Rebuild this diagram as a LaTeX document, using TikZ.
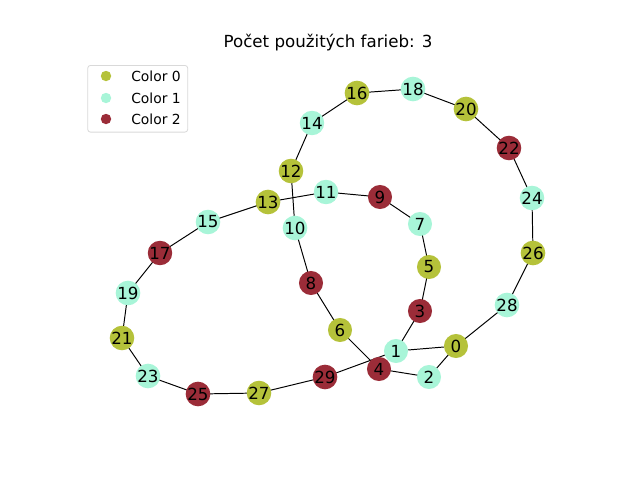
\documentclass[tikz,border=0pt]{standalone}
\usepackage{fontspec}
\setmainfont{DejaVu Sans}
\usepackage{tikz}
\usetikzlibrary{positioning}
\usetikzlibrary{calc}
\definecolor{colzero}{RGB}{181,194,58}
\definecolor{colone}{RGB}{168,245,216}
\definecolor{coltwo}{RGB}{155,44,56}
\pgfdeclarelayer{background}
\pgfsetlayers{background,main}
\tikzstyle{vertex} = [circle, inner sep=0pt, minimum size=17.3pt, font=\fontsize{12}{14}\selectfont]
\tikzstyle{czero} = [vertex, fill=colzero]
\tikzstyle{cone} = [vertex, fill=colone]
\tikzstyle{ctwo} = [vertex, fill=coltwo]
\tikzstyle{edge} = [line width=0.7pt, black]
\tikzstyle{legdot} = [circle, inner sep=0pt, minimum size=7.5pt]

\begin{document}
\begin{tikzpicture}[x=0.72pt, y=-0.72pt]
    \useasboundingbox (0,0) rectangle (640,480);

    % --- title ---
    \node[font=\fontsize{12}{14}\selectfont] at (328, 43) (title) {Počet použitých farieb: 3};

    % --- legend ---
    \node[draw=black!15, rounded corners=2pt, minimum width=100*0.72pt, minimum height=66.7*0.72pt,
        anchor=north west, line width=0.6pt] at (87.3, 65) (legend) {};
    \node[legdot, fill=colzero] at (106, 76) (leg_zero) {};
    \node[legdot, fill=colone] at (106, 98) (leg_one) {};
    \node[legdot, fill=coltwo] at (106, 119) (leg_two) {};
    \node[anchor=west, font=\fontsize{10}{12}\selectfont, inner sep=0pt] at (131, 76) (leg_zero_text) {Color 0};
    \node[anchor=west, font=\fontsize{10}{12}\selectfont, inner sep=0pt] at (131, 98) (leg_one_text) {Color 1};
    \node[anchor=west, font=\fontsize{10}{12}\selectfont, inner sep=0pt] at (131, 119) (leg_two_text) {Color 2};

    % --- vertices ---
    \node[czero] at (456, 346) (v0) {0};
    \node[cone]  at (396, 351) (v1) {1};
    \node[cone]  at (429, 377) (v2) {2};
    \node[ctwo]  at (420, 311) (v3) {3};
    \node[ctwo]  at (379, 369) (v4) {4};
    \node[czero] at (429, 267) (v5) {5};
    \node[czero] at (340, 330) (v6) {6};
    \node[cone]  at (420, 224) (v7) {7};
    \node[ctwo]  at (311, 283) (v8) {8};
    \node[ctwo]  at (380, 197) (v9) {9};
    \node[cone]  at (295, 228) (v10) {10};
    \node[cone]  at (326, 192) (v11) {11};
    \node[czero] at (291, 171) (v12) {12};
    \node[czero] at (268, 202) (v13) {13};
    \node[cone]  at (312, 123) (v14) {14};
    \node[cone]  at (208, 222) (v15) {15};
    \node[czero] at (357, 93) (v16) {16};
    \node[ctwo]  at (160, 253) (v17) {17};
    \node[cone]  at (413, 89) (v18) {18};
    \node[cone]  at (128, 293) (v19) {19};
    \node[czero] at (466, 109) (v20) {20};
    \node[czero] at (122, 338) (v21) {21};
    \node[ctwo]  at (509, 148) (v22) {22};
    \node[cone]  at (148, 376) (v23) {23};
    \node[cone]  at (532, 198) (v24) {24};
    \node[ctwo]  at (198, 394) (v25) {25};
    \node[czero] at (533, 253) (v26) {26};
    \node[czero] at (259, 393) (v27) {27};
    \node[cone]  at (507, 305) (v28) {28};
    \node[ctwo]  at (325, 377) (v29) {29};

    % --- edges, below the vertices ---
    \begin{pgfonlayer}{background}
        % even cycle
        \draw[edge] (v0.center) -- (v2.center) -- (v4.center) -- (v6.center) -- (v8.center)
            -- (v10.center) -- (v12.center) -- (v14.center) -- (v16.center) -- (v18.center)
            -- (v20.center) -- (v22.center) -- (v24.center) -- (v26.center) -- (v28.center) -- (v0.center);
        % odd cycle
        \draw[edge] (v1.center) -- (v3.center) -- (v5.center) -- (v7.center) -- (v9.center)
            -- (v11.center) -- (v13.center) -- (v15.center) -- (v17.center) -- (v19.center)
            -- (v21.center) -- (v23.center) -- (v25.center) -- (v27.center) -- (v29.center) -- (v1.center);
        % link between the two
        \draw[edge] (v0) -- (v1);
    \end{pgfonlayer}

\end{tikzpicture}
\end{document}
